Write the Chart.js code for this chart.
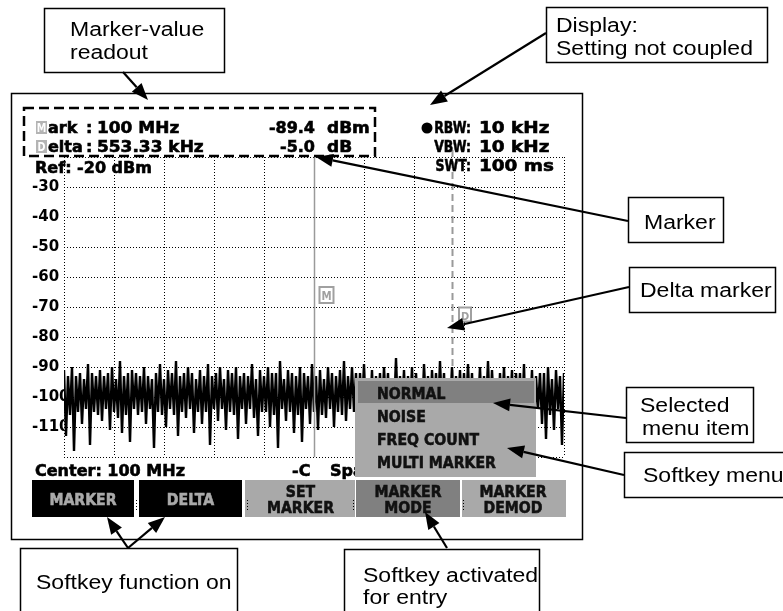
<!DOCTYPE html>
<html>
<head>
<meta charset="utf-8">
<script src="https://cdn.jsdelivr.net/npm/chart.js@4.4.0/dist/chart.umd.min.js"></script>
<style>
  html, body { margin: 0; padding: 0; background: #fff; }
  canvas { display: block; }
</style>
</head>
<body>
<canvas id="sa" width="783" height="611"></canvas>
<script>
// ---- data ----
const refLevel = -20;
const bottomLevel = -120;
const startKHz = 99000;
const stopKHz = 101000;
const markKHz = 100000;
const markDbm = '-89.4';
const deltaKHz = 553.33;
const deltaDb = '-5.0';
const menuItems = ['NORMAL', 'NOISE', 'FREQ COUNT', 'MULTI MARKER'];
const softkeys = [['MARKER'], ['DELTA'], ['SET', 'MARKER'], ['MARKER', 'MODE'], ['MARKER', 'DEMOD']];
// noise trace, one level per sweep point (dBm)
const traceDbm = [
  -91,-113,-93,-106,-90,-118,-93,-105,-92,-109,-94,-104,-89,-116,-92,-105,-93,-106,-91,-108,
  -93,-104,-92,-111,-90,-105,-94,-107,-88,-112,-93,-106,-92,-115,-91,-104,-92,-106,-93,-105,
  -90,-109,-93,-104,-94,-117,-92,-105,-89,-106,-94,-110,-91,-104,-92,-106,-88,-113,-93,-105,
  -92,-107,-90,-104,-92,-112,-94,-105,-91,-109,-93,-105,-89,-116,-93,-104,-92,-108,-90,-104,
  -94,-111,-91,-105,-92,-106,-90,-114,-93,-104,-92,-109,-93,-104,-89,-107,-94,-113,-91,-105,
  -93,-105,-90,-110,-92,-106,-92,-117,-88,-104,-94,-108,-91,-105,-92,-112,-93,-106,-90,-115,
  -92,-104,-93,-109,-89,-105,-93,-111,-91,-106,-94,-107,-90,-104,-92,-110,-93,-105,-91,-106,
  -88,-108,-93,-104,-90,-105,-92,-112,-92,-104,-89,-107,-94,-105,-91,-109,-93,-104,-92,-106,
  -90,-104,-92,-110,-94,-105,-87,-106,-93,-104,-91,-108,-93,-105,-90,-111,-92,-104,-94,-107,
  -89,-104,-93,-109,-91,-105,-92,-106,-88,-105,-92,-110,-94,-104,-90,-108,-93,-104,-91,-107,
  -92,-105,-89,-106,-92,-111,-94,-104,-90,-108,-93,-104,-88,-107,-91,-105,-94,-109,-92,-105,
  -90,-110,-93,-104,-91,-115,-92,-104,-92,-108,-89,-117,-94,-105,-91,-112,-93,-104,-92,-109,
  -92,-114,-90,-106,-94,-111,-91,-104,-93,-116,-92
];

const tracePoints = traceDbm.map((v, i) => ({
  x: startKHz + i * (stopKHz - startKHz) / (traceDbm.length - 1),
  y: v
}));

const LIGHT = '#a9a9a9', DARK = '#808080';
const scr = size => 'bold ' + size + 'px "DejaVu Sans"';
const ann = '20px "Liberation Sans", Arial, sans-serif';

function txt(ctx, s, x, y, font, color, align, sx, heavy) {
  ctx.save();
  ctx.translate(x, y);
  ctx.scale(sx || 1, 1);
  ctx.font = font;
  ctx.fillStyle = color || '#000';
  ctx.textAlign = align || 'left';
  ctx.textBaseline = 'alphabetic';
  ctx.fillText(s, 0, 0);
  if (heavy) {
    ctx.strokeStyle = color || '#000';
    ctx.lineWidth = 0.6;
    ctx.strokeText(s, 0, 0);
  }
  ctx.restore();
}

// screen (instrument) text, slightly heavier like the LCD font
function lcd(ctx, s, x, y, color, align, sx, size) {
  txt(ctx, s, x, y, scr(size || 16), color, align, sx, true);
}

function arrow(ctx, x1, y1, x2, y2) {
  const a = Math.atan2(y2 - y1, x2 - x1), L = 17, W = 6.5;
  const bx = x2 - L * Math.cos(a), by = y2 - L * Math.sin(a);
  ctx.strokeStyle = '#000';
  ctx.lineWidth = 2.2;
  ctx.beginPath(); ctx.moveTo(x1, y1); ctx.lineTo(bx, by); ctx.stroke();
  ctx.fillStyle = '#000';
  ctx.beginPath();
  ctx.moveTo(x2, y2);
  ctx.lineTo(bx + W * Math.sin(a), by - W * Math.cos(a));
  ctx.lineTo(bx - W * Math.sin(a), by + W * Math.cos(a));
  ctx.closePath(); ctx.fill();
}

function label(ctx, x, y, w, h, lines) {
  ctx.fillStyle = '#fff';
  ctx.fillRect(x, y, w, h);
  ctx.strokeStyle = '#000';
  ctx.lineWidth = 1.5;
  ctx.strokeRect(x + 0.5, y + 0.5, w, h);
  lines.forEach(l => txt(ctx, l[0], l[1], l[2], ann, '#000', 'left', 1.15));
}

function dots(ctx, x, y) {
  ctx.fillStyle = '#000';
  for (let k = 0; k < 4; k++) ctx.fillRect(x, y + k * 3, 1, 1);
}

const underTrace = {
  id: 'underTrace',
  beforeDatasetsDraw(chart) {
    const ctx = chart.ctx, xs = chart.scales.x;
    const dx = Math.round(xs.getPixelForValue(markKHz + deltaKHz)) + 0.5;
    ctx.save();
    ctx.strokeStyle = '#9a9a9a';
    ctx.lineWidth = 2;
    ctx.setLineDash([7, 4]);
    ctx.beginPath(); ctx.moveTo(dx, 150); ctx.lineTo(dx, 378); ctx.stroke();
    ctx.restore();
  }
};

const screen = {
  id: 'screen',
  afterDraw(chart) {
    const ctx = chart.ctx, xs = chart.scales.x, ys = chart.scales.y, ca = chart.chartArea;
    ctx.save();

    // marker line and symbols
    const mx = Math.round(xs.getPixelForValue(markKHz)) + 0.5;
    const dx = Math.round(xs.getPixelForValue(markKHz + deltaKHz));
    ctx.strokeStyle = '#9a9a9a';
    ctx.lineWidth = 1.5;
    ctx.beginPath(); ctx.moveTo(mx, 156); ctx.lineTo(mx, ca.bottom); ctx.stroke();
    const my = ys.getPixelForValue(-66);
    ctx.fillStyle = '#fff'; ctx.fillRect(mx + 5, my - 8, 14, 16);
    ctx.strokeStyle = '#a0a0a0'; ctx.lineWidth = 2;
    ctx.strokeRect(mx + 5, my - 8, 14, 16);
    txt(ctx, 'M', mx + 12, my + 5, scr(12), '#a0a0a0', 'center', 0.85);
    const dy = ys.getPixelForValue(-72.5);
    ctx.fillStyle = '#fff'; ctx.fillRect(dx + 7, dy - 7, 12, 14);
    ctx.strokeStyle = '#a0a0a0';
    ctx.strokeRect(dx + 7, dy - 7, 12, 14);
    txt(ctx, 'D', dx + 13, dy + 5, scr(11), '#a0a0a0', 'center', 0.9);

    // marker readout
    ctx.strokeStyle = '#000'; ctx.lineWidth = 2.5;
    ctx.setLineDash([10, 5]);
    ctx.strokeRect(24, 108, 351, 48);
    ctx.setLineDash([]);
    [['M', 'ark', '100 MHz', markDbm, 'dBm', 133], ['D', 'elta', '553.33 kHz', deltaDb, 'dB', 152]].forEach(r => {
      const y = r[5];
      ctx.fillStyle = '#b4b4b4';
      ctx.fillRect(36, y - 12, 11, 13);
      txt(ctx, r[0], 41.5, y - 1, scr(12), '#fff', 'center', 0.8);
      lcd(ctx, r[1], 48, y, '#000');
      lcd(ctx, ':', 86, y, '#000');
      lcd(ctx, r[2], 97, y, '#000', 'left', 1.06);
      lcd(ctx, r[3], 315, y, '#000', 'right');
      lcd(ctx, r[4], 327, y, '#000', 'left', 1.06);
    });
    lcd(ctx, 'Ref: ' + refLevel + ' dBm', 35, 173, '#000');

    // coupling info
    ctx.fillStyle = '#000';
    ctx.beginPath(); ctx.arc(427, 128, 5.5, 0, Math.PI * 2); ctx.fill();
    [['RBW:', '10 kHz', 133], ['VBW:', '10 kHz', 152], ['SWT:', '100 ms', 171]].forEach(r => {
      lcd(ctx, r[0], 471, r[2], '#000', 'right', 0.78);
      lcd(ctx, r[1], 479, r[2], '#000', 'left', 1.15);
    });

    // footer line
    lcd(ctx, 'Center: 100 MHz', 35, 476, '#000');
    lcd(ctx, '-C', 292, 476, '#000');
    lcd(ctx, 'Span: 2 MHz', 330, 476, '#000');

    // softkey menu
    ctx.fillStyle = LIGHT; ctx.fillRect(355, 378, 181, 99);
    ctx.fillStyle = DARK; ctx.fillRect(358, 381, 176, 22);
    menuItems.forEach((m, i) => lcd(ctx, m, 377, 399 + i * 23, '#111', 'left', 0.88));

    // softkey bar
    const keys = [[32, 102, '#000'], [139, 103, '#000'], [245, 111, LIGHT], [356, 104, DARK], [460, 106, LIGHT]];
    keys.forEach((k, i) => {
      ctx.fillStyle = k[2];
      ctx.fillRect(k[0], 480, k[1], 37);
      const cx = k[0] + k[1] / 2, lines = softkeys[i];
      if (lines.length === 1) {
        lcd(ctx, lines[0], cx, 505, LIGHT, 'center', 0.88);
      } else {
        lcd(ctx, lines[0], cx, 497, '#111', 'center', 0.88);
        lcd(ctx, lines[1], cx, 513, '#111', 'center', 0.88);
      }
    });
    ctx.fillStyle = '#fff'; ctx.fillRect(355, 480, 1, 37); ctx.fillRect(460, 480, 2, 37);
    dots(ctx, 136, 500); dots(ctx, 247, 500); dots(ctx, 353, 500); dots(ctx, 463, 500);

    // instrument frame
    ctx.strokeStyle = '#000'; ctx.lineWidth = 1.5;
    ctx.strokeRect(11.5, 93.5, 571, 446);

    // callouts
    label(ctx, 44, 8, 180, 64, [['Marker-value', 70, 36], ['readout', 70, 59]]);
    label(ctx, 546, 7, 221, 55, [['Display:', 556, 32], ['Setting not coupled', 556, 55]]);
    label(ctx, 628, 197, 95, 45, [['Marker', 644, 229]]);
    label(ctx, 629, 267, 146, 45, [['Delta marker', 640, 297]]);
    label(ctx, 626, 387, 127, 55, [['Selected', 640, 412], ['menu item', 642, 435]]);
    label(ctx, 624, 452, 162, 45, [['Softkey menu', 643, 482]]);
    label(ctx, 20, 548, 217, 80, [['Softkey function on', 36, 589]]);
    label(ctx, 344, 549, 195, 80, [['Softkey activated', 363, 582], ['for entry', 363, 604]]);

    arrow(ctx, 123, 72, 148, 100);
    arrow(ctx, 546, 33, 430, 105);
    arrow(ctx, 628, 221, 316, 157);
    arrow(ctx, 629, 287, 447, 328);
    arrow(ctx, 626, 418, 493, 403);
    arrow(ctx, 624, 475, 507, 448);
    arrow(ctx, 128, 548, 107, 517);
    arrow(ctx, 128, 548, 165, 517);
    arrow(ctx, 447, 548, 425, 512);

    ctx.restore();
  }
};

new Chart(document.getElementById('sa').getContext('2d'), {
  type: 'line',
  data: {
    datasets: [{
      data: tracePoints,
      borderColor: '#000',
      borderWidth: 2.4,
      borderJoinStyle: 'miter',
      pointRadius: 0,
      tension: 0,
      fill: false
    }]
  },
  options: {
    responsive: false,
    animation: false,
    events: [],
    layout: { padding: { left: 32, right: 219, top: 157, bottom: 154 } },
    plugins: { legend: { display: false }, tooltip: { enabled: false } },
    scales: {
      x: {
        type: 'linear',
        min: startKHz,
        max: stopKHz,
        ticks: { display: false, stepSize: 200 },
        grid: { color: '#000', lineWidth: 1, drawTicks: false },
        border: { display: false, dash: [1, 2] },
        afterFit: s => { s.height = 0; }
      },
      y: {
        min: bottomLevel,
        max: refLevel,
        ticks: {
          stepSize: 10,
          crossAlign: 'far',
          color: '#000',
          font: { family: 'DejaVu Sans', weight: 'bold', size: 15 },
          callback: v => (v === refLevel || v === bottomLevel) ? '' : String(v)
        },
        grid: { color: '#000', lineWidth: 1, drawTicks: false },
        border: { display: false, dash: [1, 2] },
        afterFit: s => { s.width = 32; }
      }
    }
  },
  plugins: [underTrace, screen]
});
</script>
</body>
</html>
